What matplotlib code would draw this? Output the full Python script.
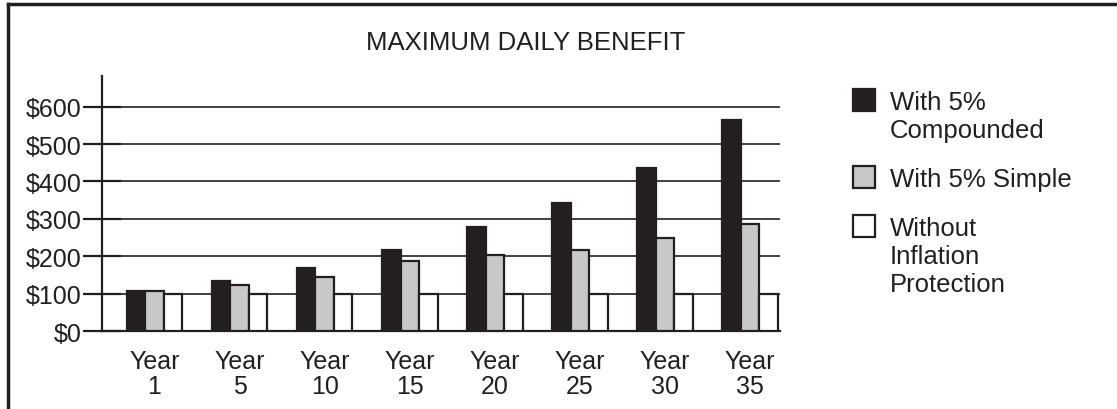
import numpy as np
import matplotlib
matplotlib.use('Agg')
import matplotlib.pyplot as plt
from matplotlib.patches import Rectangle
from matplotlib.lines import Line2D

plt.rcParams['font.family'] = ['Liberation Sans', 'DejaVu Sans']

# data
years = ['Year\n1', 'Year\n5', 'Year\n10', 'Year\n15', 'Year\n20', 'Year\n25', 'Year\n30', 'Year\n35']
compounded = [108, 133, 168, 217, 278, 342, 435, 563]
simple = [106, 124, 144, 186, 204, 216, 249, 287]
no_inflation = [100, 100, 100, 100, 100, 100, 100, 100]
series_names = ['With 5%\nCompounded', 'With 5% Simple', 'Without\nInflation\nProtection']
series_colors = ['#231f20', '#c8c8c8', '#ffffff']
y_ticks = [0, 100, 200, 300, 400, 500, 600]
y_labels = ['$0', '$100', '$200', '$300', '$400', '$500', '$600']

INK = '#231f20'
W, H = 1117, 410

fig = plt.figure(figsize=(W / 100, H / 100), dpi=100)
ax = fig.add_axes([102 / W, 1 - 332 / H, (780 - 102) / W, (332 - 77) / H])

x = np.arange(len(years))
bw = 0.2175
for k, (vals, col) in enumerate(zip([compounded, simple, no_inflation], series_colors)):
    ax.bar(x + (k - 1) * bw, vals, width=bw, color=col, edgecolor=INK,
           linewidth=1.6, zorder=3)

ax.set_xlim(-0.617, 7.35)
ax.set_ylim(0, 682)
ax.set_yticks(y_ticks)
ax.set_yticklabels(y_labels)
ax.set_xticks(x)
ax.set_xticklabels(years, linespacing=1.05)

ax.yaxis.grid(True, color=INK, linewidth=1.2)
ax.set_axisbelow(True)
for s in ['top', 'right']:
    ax.spines[s].set_visible(False)
ax.spines['left'].set_color(INK)
ax.spines['left'].set_linewidth(1.6)
ax.spines['bottom'].set_color(INK)
ax.spines['bottom'].set_linewidth(1.6)

ax.tick_params(axis='y', direction='inout', length=28, width=1.6, color=INK,
               labelsize=18, labelcolor=INK, pad=1)
ax.tick_params(axis='x', length=0, pad=13, labelsize=18, labelcolor=INK)

fig.text(526 / W, 1 - 43 / H, 'MAXIMUM DAILY BENEFIT', ha='center', va='center',
         fontsize=18.5, color=INK)

# legend drawn by hand so the swatch sits at the first line of text
sw_top = [90, 167, 216]
for top, name, col in zip(sw_top, series_names, series_colors):
    fig.add_artist(Rectangle((853 / W, 1 - (top + 22) / H), 22 / W, 22 / H,
                             transform=fig.transFigure, facecolor=col,
                             edgecolor=INK, linewidth=1.6))
    fig.text(890 / W, 1 - (top + 1) / H, name, ha='left', va='top',
             fontsize=18.5, color=INK, linespacing=1.2)

# frame lines at top and left of the picture
fig.add_artist(Line2D([8 / W, 1], [1 - 5 / H, 1 - 5 / H], transform=fig.transFigure,
                      color=INK, linewidth=2.5))
fig.add_artist(Line2D([8 / W, 8 / W], [0, 1 - 5 / H], transform=fig.transFigure,
                      color=INK, linewidth=2.5))

fig.savefig('out.png', dpi=100)
